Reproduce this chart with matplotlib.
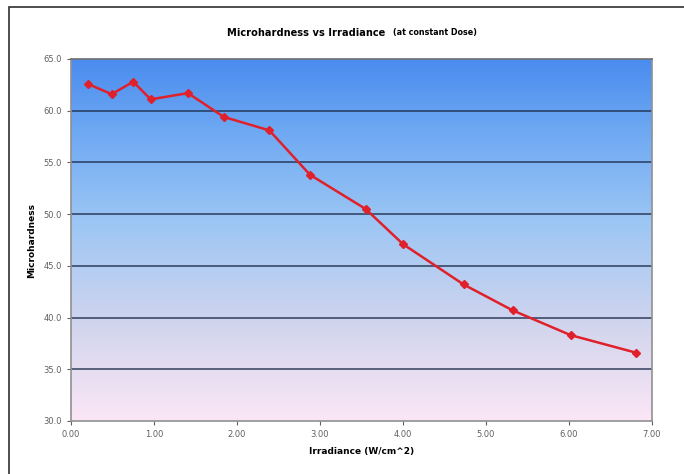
import numpy as np
from matplotlib import pyplot as plt
from matplotlib.colors import LinearSegmentedColormap
from matplotlib.patches import Rectangle

irradiance = [0.20, 0.49, 0.75, 0.96, 1.41, 1.84, 2.39, 2.88, 3.55, 4.00, 4.73, 5.32, 6.02, 6.81]
microhardness = [62.6, 61.6, 62.8, 61.1, 61.7, 59.4, 58.1, 53.8, 50.5, 47.1, 43.2, 40.7, 38.3, 36.6]

x_ticks = [0, 1, 2, 3, 4, 5, 6, 7]
y_ticks = [30, 35, 40, 45, 50, 55, 60, 65]


def main():
    fig = plt.figure(figsize=(6.84, 4.74), dpi=100)
    fig.patch.set_facecolor('white')
    # outer chart frame (only left and top edges are visible)
    fig.patches.append(Rectangle((9 / 684, -0.01), 1.0, 1 - 7 / 474 + 0.01,
                                 transform=fig.transFigure, fill=False,
                                 edgecolor='#303030', linewidth=1.2))

    ax = fig.add_axes([71 / 684, 1 - 421 / 474, (652 - 71) / 684, (421 - 59) / 474])
    ax.set_xlim(0, 7)
    ax.set_ylim(30, 65)

    # background gradient: blue at top, pink at bottom
    cmap = LinearSegmentedColormap.from_list(
        'bg', [(0.0, '#fbe6f6'), (0.25, '#d4d6ee'), (0.55, '#9cc6f4'),
               (0.8, '#6fa9f3'), (1.0, '#4a8cef')])
    grad = np.linspace(0, 1, 256).reshape(-1, 1)
    ax.imshow(grad, cmap=cmap, origin='lower', aspect='auto',
              extent=[0, 7, 30, 65], zorder=0)

    for yv in y_ticks[1:-1]:
        ax.axhline(yv, color='#1a2a48', alpha=0.75, linewidth=1.3, zorder=1)

    ax.plot(irradiance, microhardness, color='#e0202a', linewidth=1.8,
            marker='D', markersize=4, zorder=3)

    ax.set_xticks(x_ticks)
    ax.set_xticklabels([f'{v:.2f}' for v in x_ticks])
    ax.set_yticks(y_ticks)
    ax.set_yticklabels([f'{v:.1f}' for v in y_ticks])
    ax.tick_params(labelsize=6, colors='#606060', length=3, width=0.8)

    for name, sp in ax.spines.items():
        sp.set_color('#909090')
        sp.set_linewidth(1.2)
    ax.spines['top'].set_color('#707070')

    ax.set_xlabel('Irradiance (W/cm^2)', fontsize=6.5, fontweight='bold', labelpad=6)
    ax.set_ylabel('Microhardness', fontsize=6.5, fontweight='bold', labelpad=5)

    fig.text(385 / 684, 1 - 33 / 474, 'Microhardness vs Irradiance', fontsize=7.1,
             fontweight='bold', ha='right', va='center')
    fig.text(393 / 684, 1 - 33 / 474, '(at constant Dose)', fontsize=5.8,
             fontweight='bold', ha='left', va='center')

    fig.savefig('out.png', dpi=100)


if __name__ == '__main__':
    main()
